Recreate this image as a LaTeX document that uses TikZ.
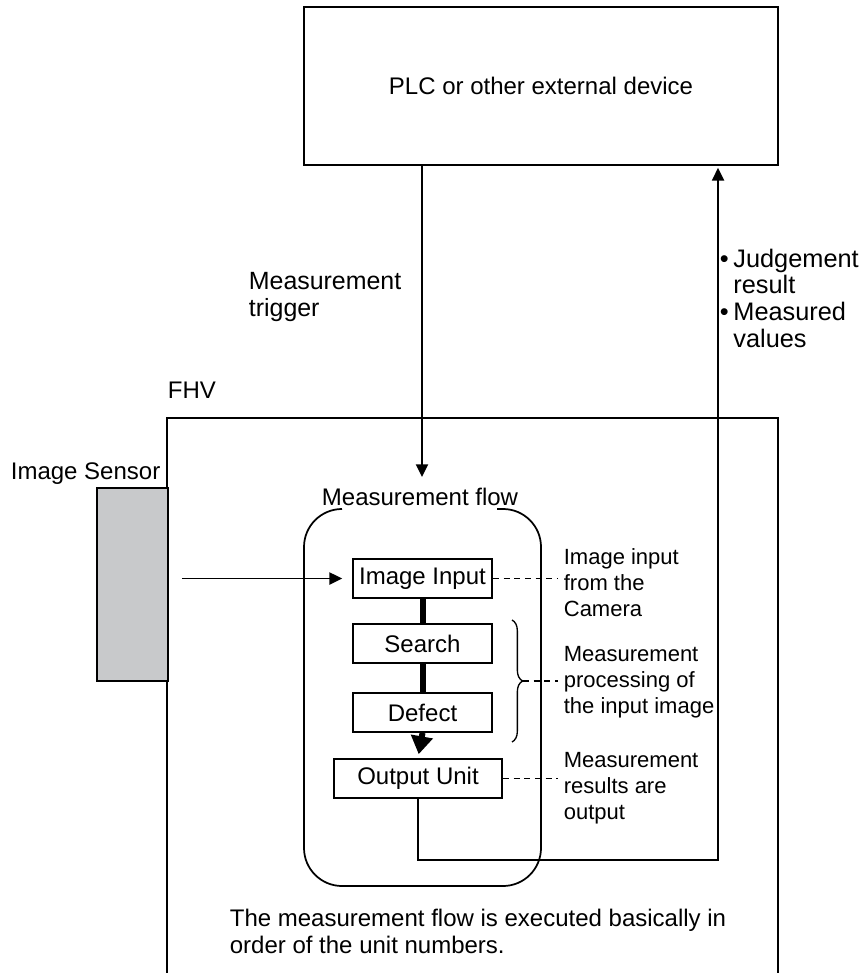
\documentclass[tikz,border=0pt]{standalone}
\usepackage{fontspec}
\setmainfont{Liberation Sans}
\usetikzlibrary{arrows.meta,decorations.pathreplacing}
\definecolor{sensorgray}{HTML}{C8C9CB}
\begin{document}
\begin{tikzpicture}[x=0.75pt,y=-0.75pt,
  font=\fontsize{18pt}{19.5pt}\selectfont,
  line width=1.3pt,
  unitbox/.style={draw, line width=1.3pt, fill=white, inner sep=0pt, minimum height=39*0.75pt},
  txt/.style={inner sep=0pt, align=left},
  notetxt/.style={txt, font=\fontsize{16.5pt}{19.5pt}\selectfont},
  arr/.style={line width=1.4pt, -{Triangle[width=9pt,length=9.5pt]}},
  flowbar/.style={line width=4.5pt},
  dashline/.style={line width=0.9pt, dash pattern=on 4.5pt off 3.5pt},
  bracestyle/.style={line width=1pt, decorate, decoration={brace, amplitude=8pt}}
]
\useasboundingbox (0,0) rectangle (867,973);

% outer boxes
\node[draw, line width=1.3pt, minimum width=474*0.75pt, minimum height=158*0.75pt, inner sep=0pt] (plc) at (541,86) {PLC or other external device};
\draw (167,975) -- (167,418) -- (778,418) -- (778,975);
\node[txt, anchor=base west] (fhv) at (167,398) {FHV};

% image sensor
\node[draw, line width=1.3pt, fill=sensorgray, minimum width=71*0.75pt, minimum height=193*0.75pt, inner sep=0pt] (sensor) at (132.5,584.5) {};
\node[txt, anchor=base west] (sensorlbl) at (10,479) {Image Sensor};

% measurement flow frame
\draw[rounded corners=28.5pt] (342,509) -- (304,509) -- (304,886) -- (541,886) -- (541,509) -- (497,509);
\node[txt, anchor=base] (flowlbl) at (420,505) {Measurement flow};

% units
\node[unitbox, minimum width=139*0.75pt] (imgin) at (422.5,578.5) {Image Input};
\node[unitbox, minimum width=139*0.75pt] (search) at (422.5,643.5) {Search};
\node[unitbox, minimum width=139*0.75pt] (defect) at (422.5,712.5) {Defect};
\node[unitbox, minimum width=168*0.75pt] (out) at (418,778.5) {Output Unit};

\draw[flowbar] (imgin.south) -- (search.north);
\draw[flowbar] (search.south) -- (defect.north);
\draw[flowbar, -{Triangle[width=16pt,length=13.5pt]}, shorten >=3pt] (defect.south) -- (out.north);

% connectors
\coordinate (flowtop) at (422,477);
\draw[arr] (plc.south -| flowtop) -- (flowtop);
\draw[arr, shorten <=9.75pt, shorten >=7.5pt] (sensor.east |- imgin) -- (imgin.west);
\coordinate (corner) at (718,860);
\draw[arr, shorten >=1.5pt] (out.south) |- (corner) -- (plc.south -| corner);

% trigger and result labels
\node[txt, anchor=west, font=\fontsize{18.7pt}{20.25pt}\selectfont] (trig) at (248,297) {Measurement\\trigger};
\node[txt, anchor=west, font=\fontsize{19pt}{20pt}\selectfont] (result) at (719,298) {•\kern3.5pt Judgement\\\hphantom{•\kern3.5pt}result\\•\kern3.5pt Measured\\\hphantom{•\kern3.5pt}values};

% annotations
\coordinate (dx) at (558,0);
\draw[dashline] (imgin.east) -- (imgin.east -| dx);
\draw[bracestyle] (512,620) -- (512,742);
\coordinate (btip) at (523,681);
\draw[dashline] (btip) -- (btip -| dx);
\draw[dashline] (out.east) -- (out.east -| dx);

\node[notetxt, anchor=west] (labA) at (563,583) {Image input\\from the\\Camera};
\node[notetxt, anchor=west] (labB) at (563,682) {Measurement\\processing of\\the input image};
\node[notetxt, anchor=west] (labC) at (563,788) {Measurement\\results are\\output};

\node[txt, anchor=west, font=\fontsize{18pt}{20.25pt}\selectfont] (note) at (229,931) {The measurement flow is executed basically in\\order of the unit numbers.};
\end{tikzpicture}
\end{document}
